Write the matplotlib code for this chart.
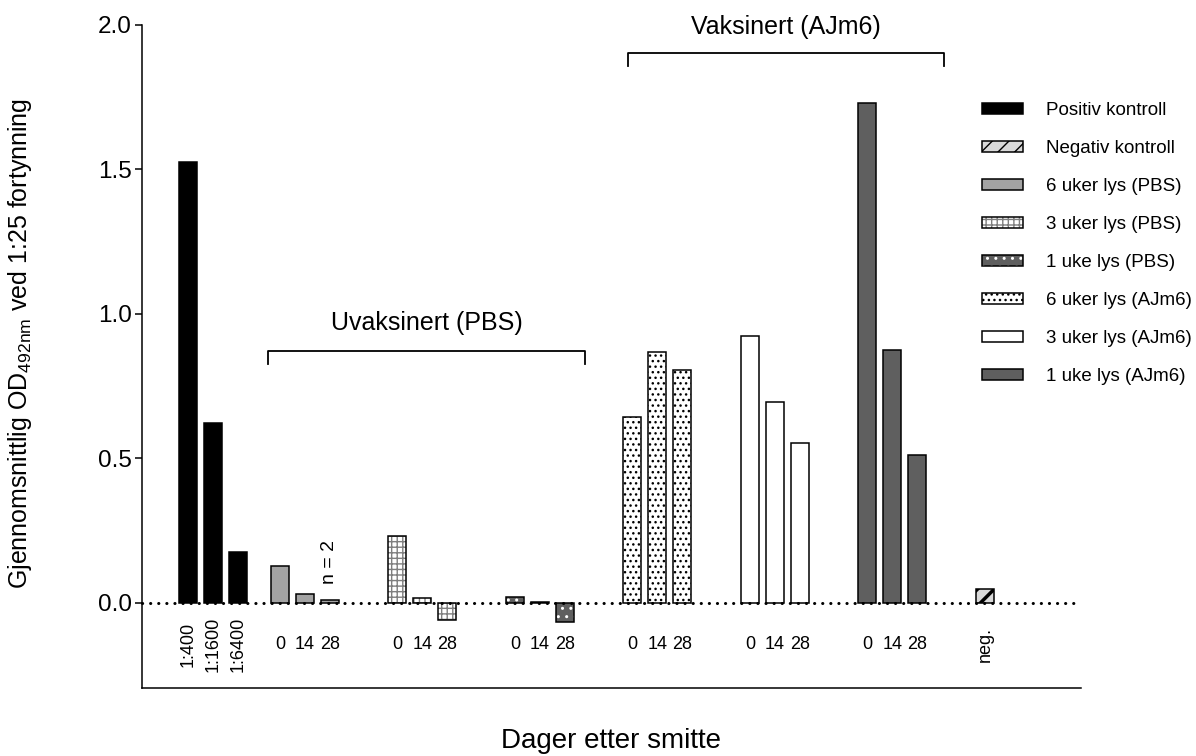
import matplotlib
matplotlib.use("Agg")
import matplotlib.pyplot as plt
from matplotlib.patches import Patch
from matplotlib.legend_handler import HandlerTuple

plt.rcParams["font.family"] = ["Liberation Sans", "DejaVu Sans"]
plt.rcParams["hatch.linewidth"] = 1.0

# mean OD492 at 1:25 dilution
positive_labels = ["1:400", "1:1600", "1:6400"]
positive_od = [1.524, 0.621, 0.176]
negative_labels = ["neg."]
negative_od = [0.047]
days = ["0", "14", "28"]

series_names = [
    "6 uker lys (PBS)",
    "3 uker lys (PBS)",
    "1 uke lys (PBS)",
    "6 uker lys (AJm6)",
    "3 uker lys (AJm6)",
    "1 uke lys (AJm6)",
]
pbs_6w = [0.128, 0.030, 0.009]
pbs_3w = [0.232, 0.017, -0.060]
pbs_1w = [0.021, 0.003, -0.067]
ajm6_6w = [0.641, 0.867, 0.805]
ajm6_3w = [0.924, 0.696, 0.552]
ajm6_1w = [1.728, 0.874, 0.511]
series_values = [pbs_6w, pbs_3w, pbs_1w, ajm6_6w, ajm6_3w, ajm6_1w]

# (face, hatch, hatch colour) for each bar style
styles = [
    ("#a3a3a3", None, None),
    ("white", "+++", "#7f7f7f"),
    ("#5f5f5f", "..", "white"),
    ("white", "...", "black"),
    ("white", None, None),
    ("#5f5f5f", None, None),
]

BAR_W = 0.72
EDGE_LW = 1.1
positive_x = [1.85, 2.85, 3.85]
group_x0 = 5.53
group_step = 4.7
negative_x = [group_x0 + group_step * len(series_values)]
XMAX = 37.56

fig = plt.figure(figsize=(11.96, 7.56), dpi=100)
ax = fig.add_axes([0.1185, 0.0903, 0.7851, 0.877])


def draw_bars(xs, heights, face, hatch=None, hcolor=None):
    if hatch:
        ax.bar(xs, heights, BAR_W, color=face, edgecolor=hcolor,
               hatch=hatch, linewidth=0, zorder=2)
        ax.bar(xs, heights, BAR_W, facecolor="none", edgecolor="black",
               linewidth=EDGE_LW, zorder=3)
        return (Patch(facecolor=face, edgecolor=hcolor, hatch=hatch, lw=0),
                Patch(facecolor="none", edgecolor="black", lw=EDGE_LW))
    ax.bar(xs, heights, BAR_W, color=face, edgecolor="black",
           linewidth=EDGE_LW, zorder=3)
    return Patch(facecolor=face, edgecolor="black", lw=EDGE_LW)


def put_label(x, text, rotation=0):
    ax.text(x, -0.145, text, rotation=rotation, ha="center", va="center",
            fontsize=13)


handles = [draw_bars(positive_x, positive_od, "black")]
for x, t in zip(positive_x, positive_labels):
    put_label(x, t, rotation=90)

# negative control: thick diagonal stripes on light grey
with plt.rc_context({"hatch.linewidth": 2.5}):
    handles.append(draw_bars(negative_x, negative_od, "#d9d9d9", "//", "black"))
for x, t in zip(negative_x, negative_labels):
    put_label(x, t, rotation=90)

for i, (vals, (face, hatch, hcolor)) in enumerate(zip(series_values, styles)):
    xs = [group_x0 + group_step * i + k for k in range(len(vals))]
    handles.append(draw_bars(xs, vals, face, hatch, hcolor))
    for x, d in zip(xs, days):
        put_label(x, d)
    if i == 0:
        ax.text(xs[2], 0.1425, "n = 2", rotation=90, ha="center", va="center",
                fontsize=14)

# dotted zero line
ax.plot([0, XMAX], [0, 0], color="black", lw=2.2, linestyle=(0, (0.05, 2.6)),
        dash_capstyle="round", zorder=5, clip_on=False)


def bracket(x0, x1, y, text, text_y):
    ax.plot([x0, x0, x1, x1], [y - 0.045, y, y, y - 0.045], color="black",
            lw=1.3, clip_on=False)
    ax.text((x0 + x1) / 2, text_y, text, ha="center", va="center",
            fontsize=18, clip_on=False)


bracket(5.05, 17.73, 0.871, "Uvaksinert (PBS)", 0.968)
bracket(19.44, 32.1, 1.901, "Vaksinert (AJm6)", 1.992)

ax.set_xlim(0, XMAX)
ax.set_ylim(-0.294, 2.0)
ax.set_xticks([])
ax.set_yticks([0, 0.5, 1.0, 1.5, 2.0])
ax.set_yticklabels(["0.0", "0.5", "1.0", "1.5", "2.0"], fontsize=17.5)
ax.tick_params(axis="y", length=5, width=EDGE_LW, pad=2)
for side in ("top", "right"):
    ax.spines[side].set_visible(False)
for side in ("left", "bottom"):
    ax.spines[side].set_linewidth(EDGE_LW)

ax.set_ylabel(r"Gjennomsnittlig OD$_{\mathregular{492nm}}$ ved 1:25 fortynning",
              fontsize=18)
ax.yaxis.set_label_coords(-0.1147, 0.52)
ax.set_xlabel("Dager etter smitte", fontsize=20)
ax.xaxis.set_label_coords(0.5, -0.061)

legend_labels = ["Positiv kontroll", "Negativ kontroll"] + series_names
fig.legend(handles, legend_labels, loc="upper left",
           bbox_to_anchor=(0.8208, 0.865), frameon=False, borderpad=0,
           borderaxespad=0, handlelength=2.19, handleheight=0.53,
           handletextpad=1.25, labelspacing=1.12, fontsize=13.5,
           handler_map={tuple: HandlerTuple(ndivide=1)})

fig.savefig("out.png", dpi=100)
